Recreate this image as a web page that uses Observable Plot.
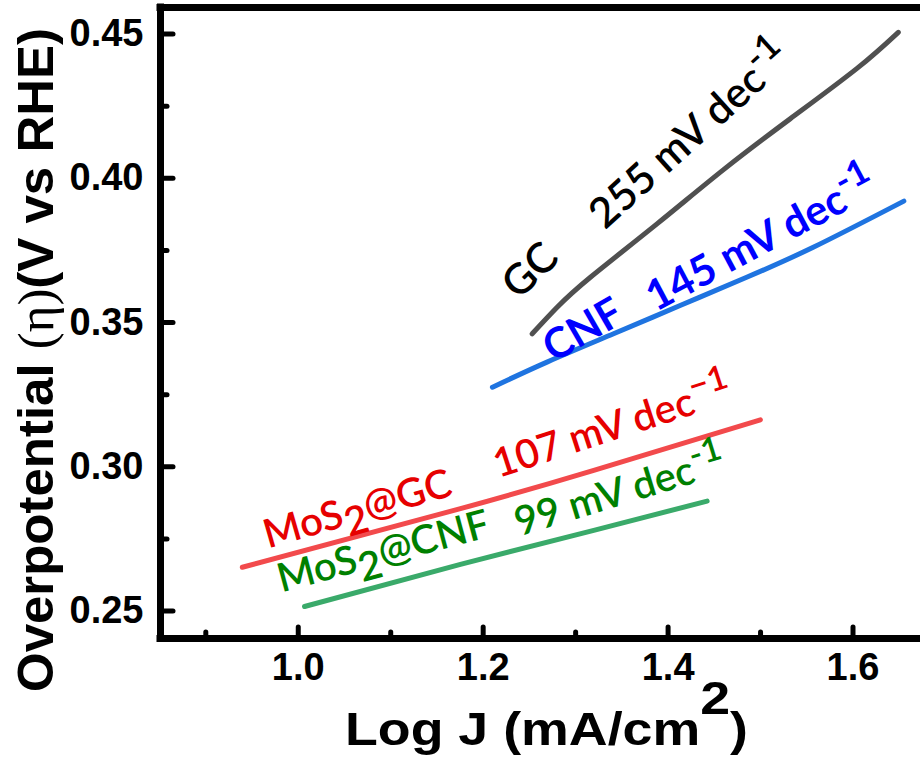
<!DOCTYPE html>
<html><head><meta charset="utf-8">
<script src="https://cdn.jsdelivr.net/npm/d3@7"></script>
<script src="https://cdn.jsdelivr.net/npm/@observablehq/plot@0.6"></script>
<style>body{margin:0;background:#fff}#chart{width:920px;height:762px}</style>
</head><body><div id="chart"></div>
<script>
// ---- data ----
const gcX = [1.253, 1.280, 1.316, 1.388, 1.460, 1.532, 1.604, 1.649];
const gcY = [0.3461, 0.3553, 0.3657, 0.3842, 0.4030, 0.4206, 0.4380, 0.4506];
const cnfX = [1.210, 1.269, 1.341, 1.413, 1.485, 1.557, 1.655];
const cnfY = [0.3276, 0.3363, 0.3461, 0.3559, 0.3657, 0.3761, 0.3921];
const mosGcX = [0.9395, 1.1754, 1.3196, 1.4998];
const mosGcY = [0.2652, 0.2855, 0.2988, 0.3163];
const mosCnfX = [1.0068, 1.1754, 1.3196, 1.4422];
const mosCnfY = [0.2516, 0.2662, 0.2780, 0.2881];

const xMajor = [1.0, 1.2, 1.4, 1.6];
const xMinor = [0.9, 1.1, 1.3, 1.5];
const yMajor = [0.25, 0.30, 0.35, 0.40, 0.45];
const yMinor = [0.275, 0.325, 0.375, 0.425];
const xDomain = [0.851, 1.673];
const yDomain = [0.2405, 0.4592];

const xTitle = "Log J (mA/cm^{2})";
const yTitle = "Overpotential ~{(η)}(V vs RHE)";

// annotation labels (anchor in data units)
const annText  = ["GC", "255 mV dec^{-1}", "CNF", "145 mV dec^{-1}", "MoS_{2}@GC", "107 mV dec^{−1}", "MoS_{2}@CNF", "99 mV dec^{-1}"];
const annX     = [1.251, 1.424, 1.308, 1.501, 1.064, 1.340, 1.092, 1.348];
const annY     = [0.368, 0.4148, 0.3473, 0.3784, 0.2852, 0.3137, 0.2705, 0.2912];
const annAngle = [-44, -42, -30, -28, -16, -18, -15, -17];
const annColor = ["#000000", "#000000", "#0000ff", "#0000ff", "#e60000", "#e60000", "#008000", "#008000"];
const annWeight = [600, 600, 700, 700, 600, 600, 600, 600];
const annSize  = [42, 42, 42, 42, 40, 40, 40, 40];

const rows = (xs, ys) => xs.map((x, i) => ({x, y: ys[i]}));
const lineOpts = {x: "x", y: "y", strokeWidth: 5, curve: "natural", strokeLinecap: "round"};
const tickFont = {fontSize: 38, fontWeight: "bold", fontFamily: "Liberation Sans, Arial, sans-serif", color: "black"};

const chart = Plot.plot({
  width: 920, height: 762,
  marginLeft: 160, marginRight: 0, marginTop: 7, marginBottom: 124,
  x: {domain: xDomain},
  y: {domain: yDomain},
  style: {background: "white", color: "black"},
  marks: [
    Plot.line(rows(gcX, gcY), {...lineOpts, stroke: "#505050"}),
    Plot.line(rows(cnfX, cnfY), {...lineOpts, stroke: "#1f74e0"}),
    Plot.line(rows(mosGcX, mosGcY), {...lineOpts, stroke: "#f24a4c"}),
    Plot.line(rows(mosCnfX, mosCnfY), {...lineOpts, stroke: "#3aaa6a"}),
    Plot.ruleX([xDomain[0]], {strokeWidth: 7, strokeLinecap: "square"}),
    Plot.ruleY([yDomain[0], yDomain[1]], {strokeWidth: 7, strokeLinecap: "square"}),
    Plot.axisY(yMajor, {anchor: "left", tickSize: -13, tickPadding: 30, strokeWidth: 5, strokeLinecap: "round", tickFormat: d3.format(".2f"), label: null, ...tickFont}),
    Plot.axisY(yMinor, {anchor: "left", tickSize: -7, strokeWidth: 5, strokeLinecap: "round", tickFormat: () => "", label: null}),
    Plot.axisX(xMajor, {anchor: "bottom", tickSize: -11, tickPadding: 26, strokeWidth: 5, strokeLinecap: "round", tickFormat: d3.format(".1f"), label: null, ...tickFont}),
    Plot.axisX(xMinor, {anchor: "bottom", tickSize: -6, strokeWidth: 5, strokeLinecap: "round", tickFormat: () => "", label: null}),
    Plot.text([xTitle], {frameAnchor: "bottom", textAnchor: "middle", lineAnchor: "middle", dx: 6, dy: 92, fontSize: 46, fontWeight: "bold", fontFamily: "Liberation Sans, Arial, sans-serif", fill: "black"}),
    Plot.text([yTitle], {frameAnchor: "left", textAnchor: "middle", lineAnchor: "middle", rotate: -90, dx: -124, dy: 37, fontSize: 50, fontWeight: "bold", fontFamily: "Liberation Sans, Arial, sans-serif", fill: "black"}),
    ...annText.map((t, i) => Plot.text([t], {
      x: () => annX[i], y: () => annY[i], rotate: annAngle[i],
      fill: annColor[i], fontWeight: annWeight[i], fontSize: annSize[i], fontFamily: "Lato, Noto Sans, sans-serif"
    }))
  ]
});
document.getElementById("chart").appendChild(chart);

// rich text: _{sub}, ^{sup}, ~{serif normal}
function richify(el, fs, supScale, supRaise, subDrop) {
  const s = el.textContent;
  const parts = s.split(/([_^~]\{[^}]*\})/).filter(p => p !== "");
  el.textContent = "";
  let shift = 0;
  const sel = d3.select(el);
  for (const p of parts) {
    const m = p.match(/^([_^~])\{([^}]*)\}$/);
    const t = sel.append("tspan");
    if (!m) {
      t.text(p);
      if (shift) { t.attr("dy", -shift); shift = 0; }
    } else if (m[1] === "_") {
      t.text(m[2]).attr("dy", subDrop * fs); shift = subDrop * fs;
    } else if (m[1] === "^") {
      t.text(m[2]).attr("dy", -supRaise * fs).attr("font-size", supScale * fs); shift = -supRaise * fs;
    } else {
      t.text(m[2]).attr("font-family", "Liberation Serif, Times New Roman, serif").attr("font-weight", "normal");
    }
  }
}
d3.select(chart).selectAll("text").each(function() {
  const s = this.textContent;
  if (s.startsWith("Log J")) {
    richify(this, 46, 1.0, 0.68, 0);
    d3.select(this).attr("textLength", 403).attr("lengthAdjust", "spacingAndGlyphs");
  } else if (s.startsWith("Overpotential")) {
    richify(this, 50, 1, 0, 0);
    d3.select(this).attr("textLength", 664).attr("lengthAdjust", "spacingAndGlyphs");
  } else if (/[_^~]\{/.test(s)) {
    const fs = parseFloat(d3.select(this.parentNode).attr("font-size")) || 40;
    richify(this, fs, 0.85, 0.38, 0.28);
  }
});
</script>
</body></html>
